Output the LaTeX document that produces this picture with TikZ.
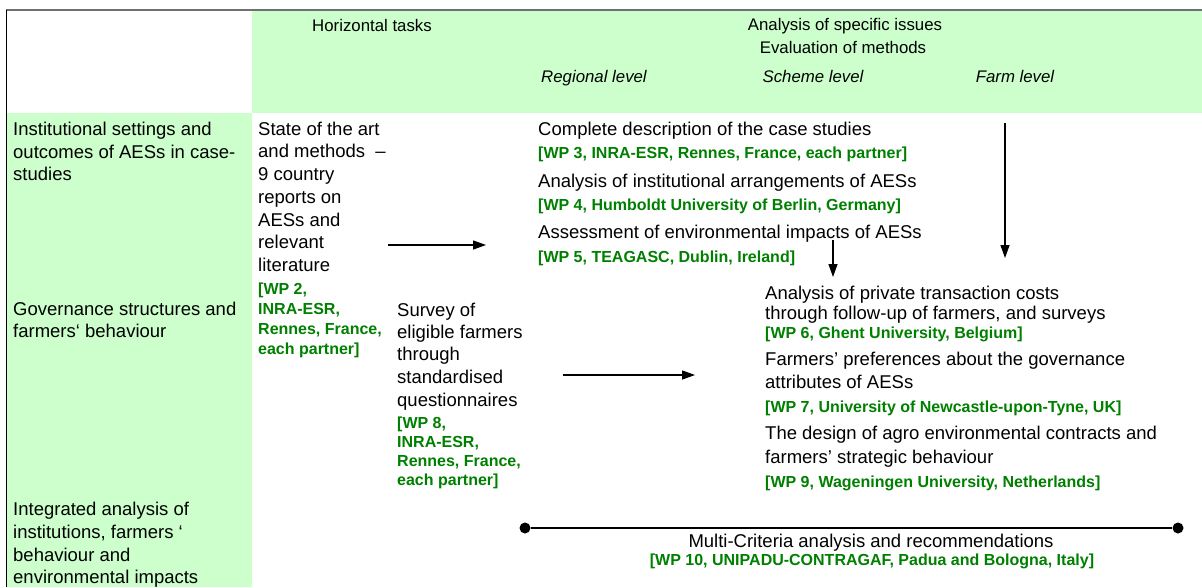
\documentclass[tikz,border=0pt]{standalone}
\usepackage{fontspec}
\setmainfont{Liberation Sans}
\usetikzlibrary{arrows.meta}
\definecolor{hdrgreen}{HTML}{CCFFCC}
\definecolor{wpgreen}{HTML}{008000}
\definecolor{topgray}{HTML}{707070}
\begin{document}
\begin{tikzpicture}[x=1pt,y=-1pt,
  body/.style={font=\fontsize{18.5}{22}\selectfont, inner sep=0pt, anchor=base west},
  bodyc/.style={body, anchor=base},
  hdr/.style={font=\fontsize{16.8}{20}\selectfont, inner sep=0pt, anchor=base},
  lvl/.style={font=\fontsize{16.8}{20}\selectfont\itshape, inner sep=0pt, anchor=base},
  wp/.style={font=\fontsize{16}{19}\selectfont\bfseries, text=wpgreen, inner sep=0pt, anchor=base west},
  wpc/.style={wp, anchor=base},
  arr/.style={line width=1.3pt, -{Triangle[length=13pt,width=9pt]}},
  dot/.style={circle, fill=black, inner sep=0pt, minimum size=11pt},
  link/.style={line width=1.3pt}]
\useasboundingbox (0,0) rectangle (1202,587);
\fill[white] (0,0) rectangle (1202,587);
% green areas
\fill[hdrgreen] (252,10) rectangle (1202,112.5);
\fill[hdrgreen] (7,112.5) rectangle (252,587);
% frame lines
\draw[topgray, line width=1.5pt] (6,10) -- (1202,10);
\draw[black, line width=1.8pt] (6.5,9.5) -- (6.5,587);

% header
\node[hdr] (hz) at (372,31) {Horizontal tasks};
\node[hdr] (asi) at (845,30) {Analysis of specific issues};
\node[hdr] (eom) at (843,53) {Evaluation of methods};
\node[lvl] (reg) at (594,82) {Regional level};
\node[lvl] (sch) at (813,82) {Scheme level};
\node[lvl] (frm) at (1015,82) {Farm level};

% left column
\node[body] (r1a) at (13,135) {Institutional settings and};
\node[body] (r1b) at (13,158) {outcomes of AESs in case-};
\node[body] (r1c) at (13,180) {studies};
\node[body] (r2a) at (13,315) {Governance structures and};
\node[body] (r2b) at (13,337) {farmers‘ behaviour};
\node[body] (r3a) at (13,515) {Integrated analysis of};
\node[body] (r3b) at (13,538) {institutions, farmers ‘};
\node[body] (r3c) at (13,561) {behaviour and};
\node[body] (r3d) at (13,583) {environmental impacts};

% column 2: state of the art
\node[body] (s1) at (258,135) {State of the art};
\node[body] (s2) at (258,157.5) {and methods \ –};
\node[body] (s3) at (258,180) {9 country};
\node[body] (s4) at (258,203) {reports on};
\node[body] (s5) at (258,226) {AESs and};
\node[body] (s6) at (258,248) {relevant};
\node[body] (s7) at (258,271) {literature};
\node[wp] (s8) at (258,294) {[WP 2,};
\node[wp] (s9) at (258,314) {INRA-ESR,};
\node[wp] (s10) at (258,334) {Rennes, France,};
\node[wp] (s11) at (258,354) {each partner]};

% column 3: survey
\node[body] (v1) at (397,316) {Survey of};
\node[body] (v2) at (397,338) {eligible farmers};
\node[body] (v3) at (397,360) {through};
\node[body] (v4) at (397,383) {standardised};
\node[body] (v5) at (397,406) {questionnaires};
\node[wp] (v6) at (397,428) {[WP 8,};
\node[wp] (v7) at (397,447) {INRA-ESR,};
\node[wp] (v8) at (397,466) {Rennes, France,};
\node[wp] (v9) at (397,485) {each partner]};

% column 4: case studies
\node[body] (c1) at (538,135) {Complete description of the case studies};
\node[wp] (c2) at (538,158) {[WP 3, INRA-ESR, Rennes, France, each partner]};
\node[body] (c3) at (538,187) {Analysis of institutional arrangements of AESs};
\node[wp] (c4) at (538,210) {[WP 4, Humboldt University of Berlin, Germany]};
\node[body] (c5) at (538,238) {Assessment of environmental impacts of AESs};
\node[wp] (c6) at (538,262) {[WP 5, TEAGASC, Dublin, Ireland]};

% right block
\node[body] (f1) at (765,299) {Analysis of private transaction costs};
\node[body] (f2) at (765,319) {through follow-up of farmers, and surveys};
\node[wp] (f3) at (765,338) {[WP 6, Ghent University, Belgium]};
\node[body] (f4) at (765,365) {Farmers’ preferences about the governance};
\node[body] (f5) at (765,388) {attributes of AESs};
\node[wp] (f6) at (765,412) {[WP 7, University of Newcastle-upon-Tyne, UK]};
\node[body] (f7) at (765,439) {The design of agro environmental contracts and};
\node[body] (f8) at (765,463) {farmers’ strategic behaviour};
\node[wp] (f9) at (765,487) {[WP 9, Wageningen University, Netherlands]};

% bottom
\node[bodyc] (mc) at (871,547) {Multi-Criteria analysis and recommendations};
\node[wpc] (mcw) at (872,565) {[WP 10, UNIPADU-CONTRAGAF, Padua and Bologna, Italy]};
\node[dot] (m1) at (525,528) {};
\node[dot] (m2) at (1178,528) {};
\draw[link] (m1) -- (m2);

% arrows
\coordinate (a1s) at (388,245);
\coordinate (a1e) at (486,245);
\coordinate (a2s) at (563,375);
\coordinate (a2e) at (695,375);
\coordinate (a3s) at (833,240);
\coordinate (a3e) at (833,277);
\coordinate (a4s) at (1005,123);
\coordinate (a4e) at (1005,258);
\draw[arr] (a1s) -- (a1e);
\draw[arr] (a2s) -- (a2e);
\draw[arr] (a3s) -- (a3e);
\draw[arr] (a4s) -- (a4e);
\end{tikzpicture}
\end{document}
